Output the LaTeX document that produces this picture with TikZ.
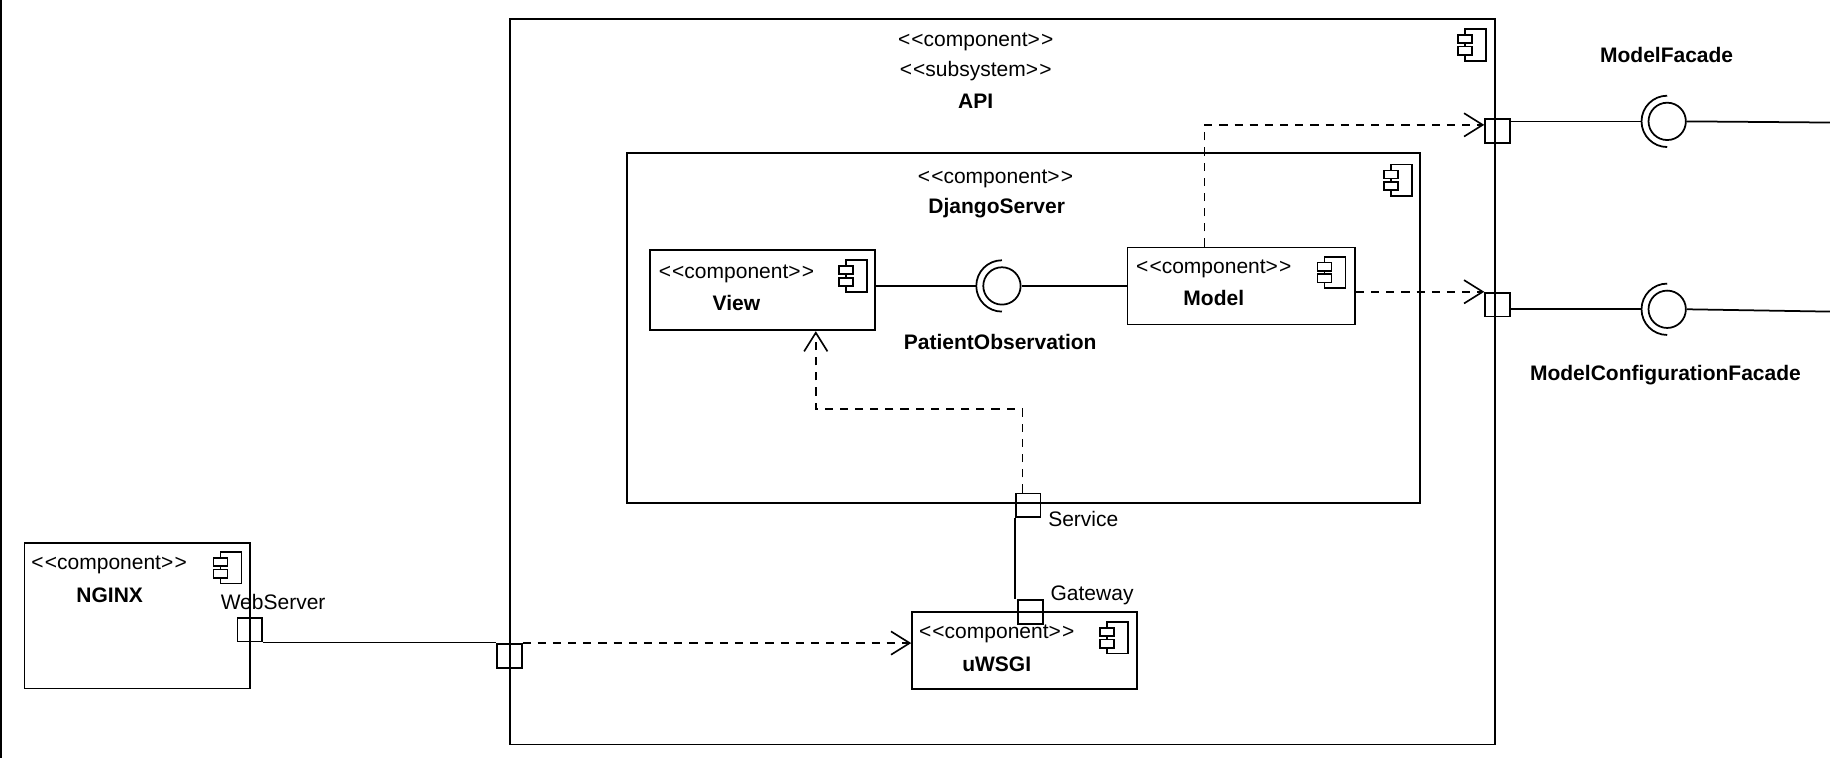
\documentclass[tikz,border=0pt]{standalone}
\usepackage{fontspec}
\setmainfont{Liberation Sans}
\usetikzlibrary{arrows.meta,calc}
\newcommand\stt[1]{<\kern1pt<#1>\kern1pt>}
\tikzset{
  box/.style={draw, line width=1.5pt, rectangle, inner sep=0pt},
  port/.style={draw, line width=1.5pt, inner sep=0pt, minimum width=21pt, minimum height=20.5pt},
  stereo/.style={inner sep=0pt, font=\fontsize{18}{21}\selectfont},
  cname/.style={inner sep=0pt, font=\fontsize{18}{21}\selectfont\bfseries},
  plabel/.style={inner sep=0pt, font=\fontsize{18}{21}\selectfont},
  wire/.style={line width=1.5pt},
  dep/.style={line width=1.4pt, dash pattern=on 7pt off 6pt, -{Straight Barb[length=16pt, width=20pt]}},
  ball/.style={draw, circle, line width=1.5pt, minimum size=32pt, inner sep=0pt},
  compicon/.pic={
    \draw[line width=1.4pt] (0,0) rectangle (18,27);
    \draw[line width=1.4pt, fill=white] (-6,5) rectangle (6,12);
    \draw[line width=1.4pt, fill=white] (-6,15) rectangle (6,22);
  }
}
\begin{document}
\begin{tikzpicture}[x=1pt,y=-1pt]
\useasboundingbox (0,0) rectangle (1568,649.5);
\draw[line width=1.6pt] (1,0) -- (1,649.5);

% boxes
\node[box, minimum width=844pt, minimum height=622pt] (api) at (859,327) {};
\node[box, minimum width=680pt, minimum height=300pt] (django) at (877,281) {};
\node[box, minimum width=193pt, minimum height=69pt] (view) at (653.5,248.5) {};
\node[box, minimum width=195pt, minimum height=66pt] (model) at (1063.5,245) {};
\node[box, minimum width=193pt, minimum height=66pt] (uwsgi) at (878,557.5) {};
\node[box, minimum width=193pt, minimum height=125pt] (nginx) at (117.5,527.5) {};

% icons
\pic at (1255,25) {compicon};
\pic at (1192,141) {compicon};
\pic at (725,223) {compicon};
\pic at (1135,220) {compicon};
\pic at (948.6,533) {compicon};
\pic at (189,473) {compicon};

% labels
\node[stereo] (apiS1) at (836,36) {\stt{component}};
\node[stereo] (apiS2) at (836,61) {\stt{subsystem}};
\node[cname] (apiN) at (836,87) {API};
\node[stereo] (djS) at (853,153) {\stt{component}};
\node[cname] (djN) at (854,178) {DjangoServer};
\node[stereo] (viewS) at (631,235) {\stt{component}};
\node[cname] (viewN) at (631,260) {View};
\node[stereo] (modelS) at (1040,230) {\stt{component}};
\node[cname] (modelN) at (1040,255) {Model};
\node[stereo] (uwS) at (854,543) {\stt{component}};
\node[cname] (uwN) at (854,569) {uWSGI};
\node[stereo] (ngS) at (93.5,484) {\stt{component}};
\node[cname] (ngN) at (94,510) {NGINX};

% ports
\node[port] (pMF) at (1283,112) {};
\node[port] (pMC) at (1283,261) {};
\node[port] (pService) at (881,433) {};
\node[port] (pGateway) at (883,524.5) {};
\node[port] (pWeb) at (214,539.5) {};
\node[port] (pApiLeft) at (436.5,562) {};

\node[plabel, anchor=west] (lService) at (898,445) {Service};
\node[plabel, anchor=west] (lGateway) at (900,510.5) {Gateway};
\node[plabel] (lWeb) at (234,516) {WebServer};

% lollipops
\node[ball] (mfb) at (1428.5,104) {};
\node[ball] (mcb) at (1428.5,265) {};
\node[ball] (pob) at (858.5,245) {};
\foreach \b in {mfb,mcb,pob}{
  \draw[wire] ($(\b.center)+(0,22)$) arc[start angle=90, end angle=270, radius=22];
}
\coordinate (eMF) at (1568,105);
\coordinate (eMC) at (1568,267);
\draw[wire] (pMF.east |- mfb) -- ($(mfb.center)+(-22,0)$);
\draw[wire] (mfb.east) -- (eMF);
\draw[wire] (pMC.east |- mcb) -- ($(mcb.center)+(-22,0)$);
\draw[wire] (mcb.east) -- (eMC);
\draw[wire] (view.east |- pob) -- ($(pob.center)+(-22,0)$);
\draw[wire] (pob.east) -- (model.west |- pob);

\node[cname] (mfL) at (1428,47) {ModelFacade};
\node[cname] (mcL) at (1427,321) {ModelConfigurationFacade};
\node[cname] (pobL) at (857,293) {PatientObservation};

% dependencies
\coordinate (m1) at (1032,107);
\coordinate (m2) at (0,250);
\draw[dep] (model.north -| m1) |- (pMF.west |- m1);
\draw[dep] (model.east |- m2) -- (pMC.west |- m2);
\coordinate (s0) at (876,350.5);
\coordinate (s1) at (699,350.5);
\draw[dep] (pService.north -| s0) |- (s1) -- (view.south -| s1);
\draw[wire] (pService.south west) -- (pService.south west |- pGateway.north);
\draw[wire] (pWeb.south east) -- (pWeb.south east -| pApiLeft.west);
\draw[dep] (pApiLeft.north east) -- (pApiLeft.north east -| uwsgi.west);
\end{tikzpicture}
\end{document}
